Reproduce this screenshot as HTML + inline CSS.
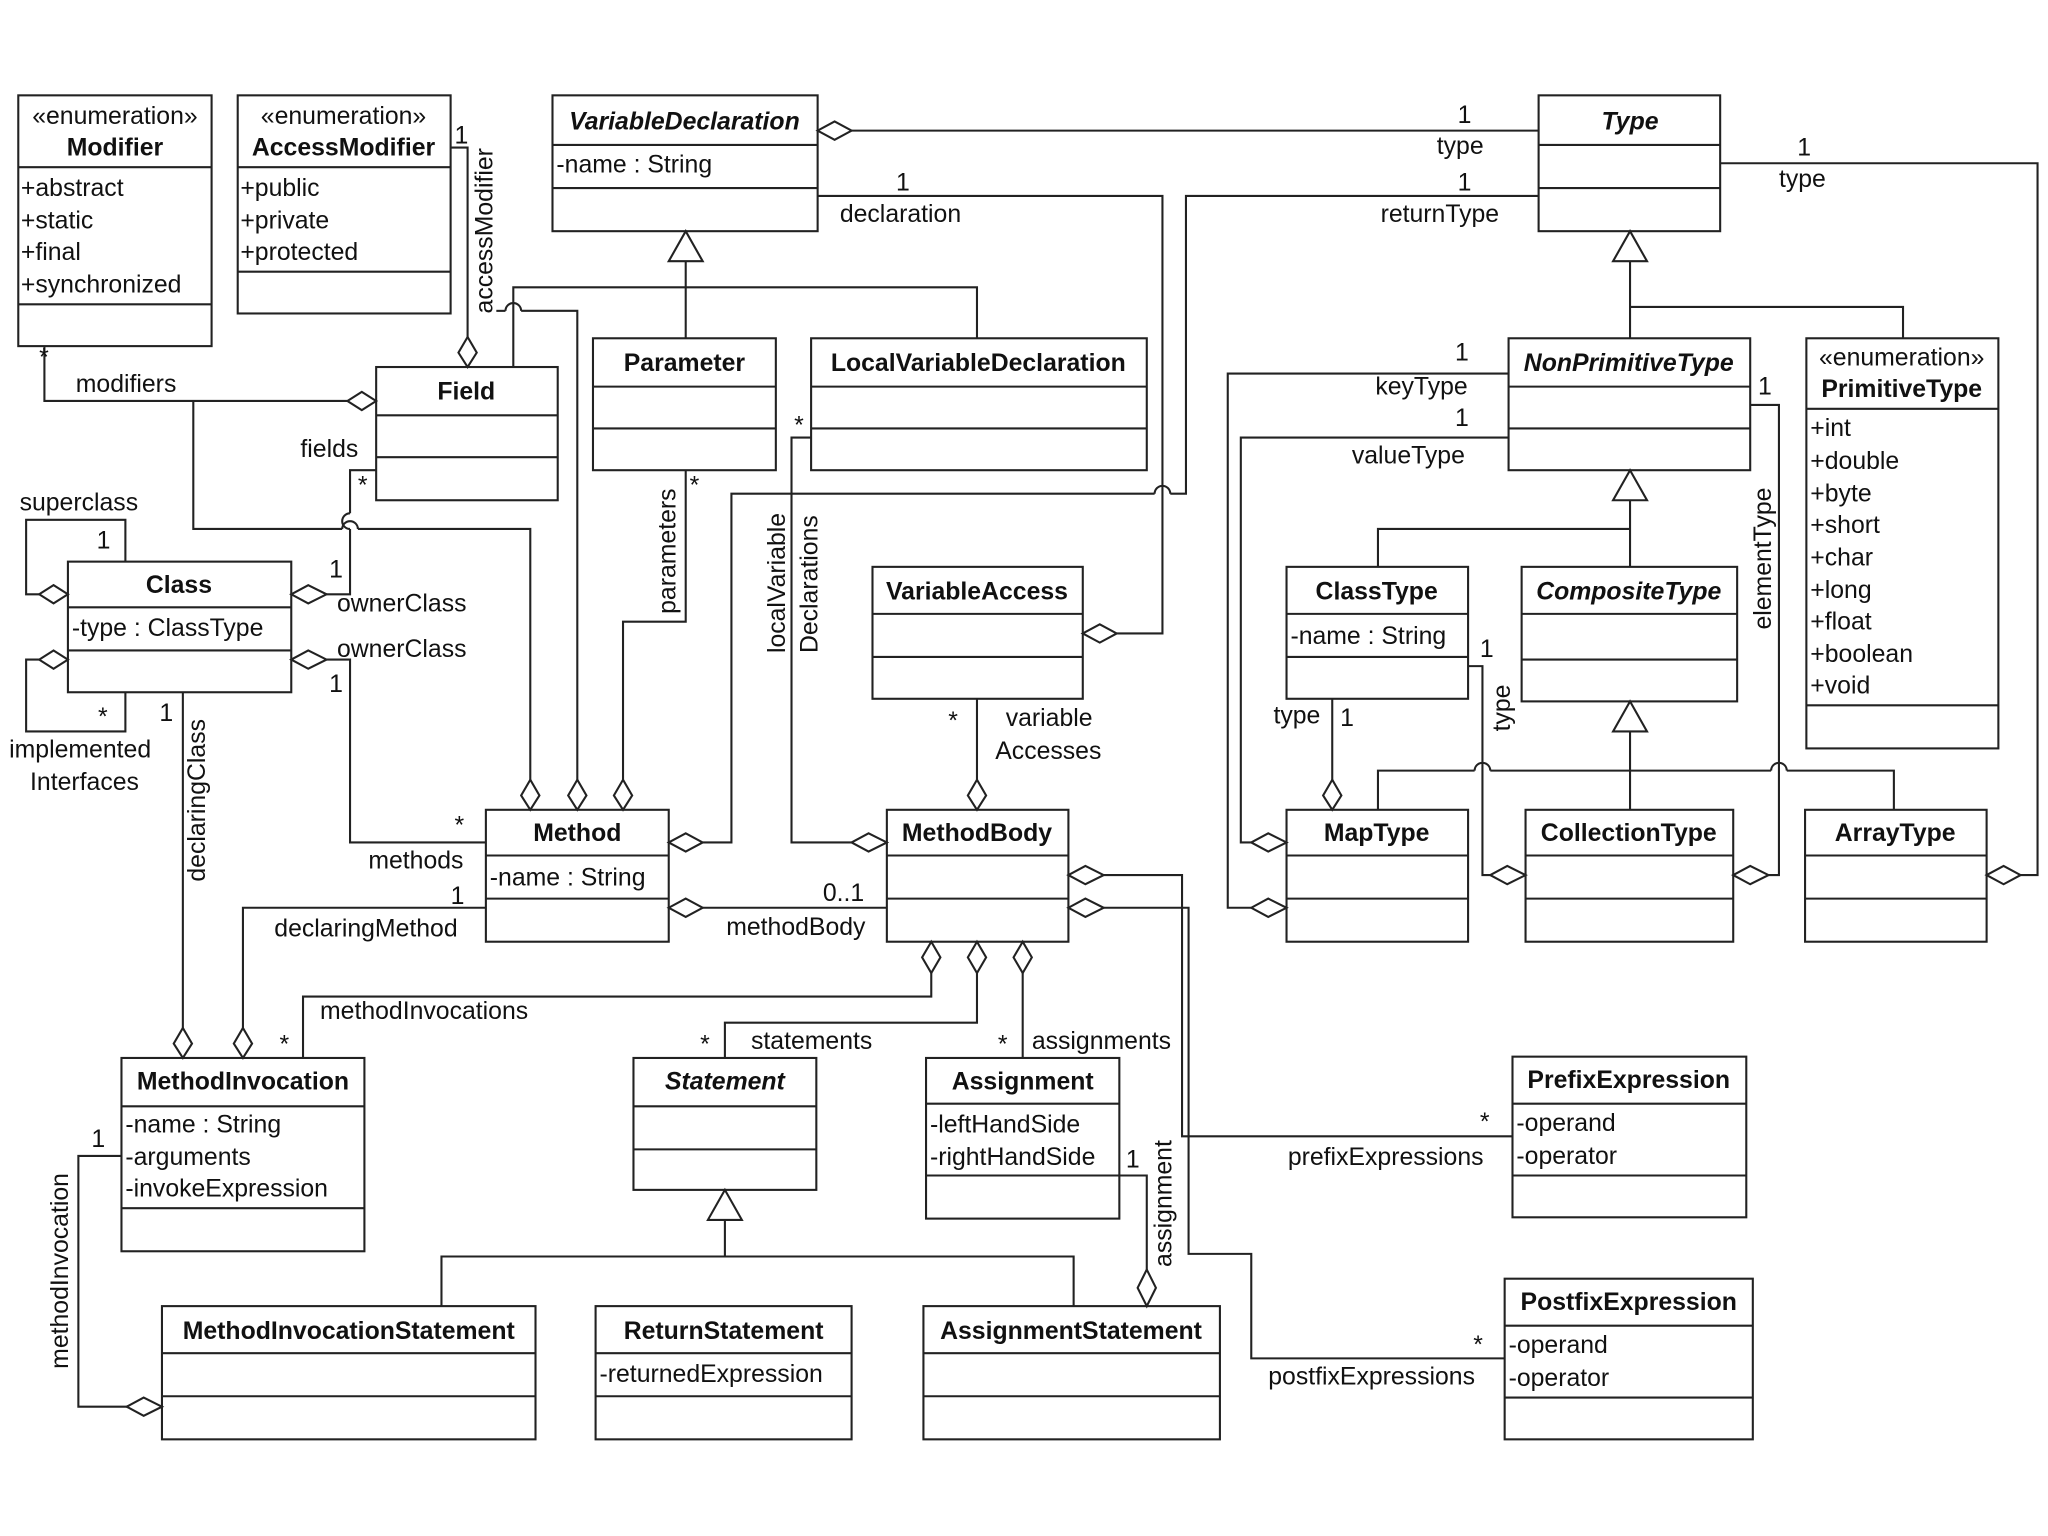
<!DOCTYPE html>
<html><head><meta charset="utf-8"><style>
html,body{margin:0;padding:0;background:#fff;}
svg{display:block;}
text{font-family:"Liberation Sans",sans-serif;font-size:19px;fill:#111;}
.b{font-weight:bold;}
.i{font-style:italic;font-weight:bold;}
</style></head><body>
<svg width="2048" height="1536" viewBox="0 0 1568 1176" preserveAspectRatio="none" xmlns="http://www.w3.org/2000/svg">
<rect width="1568" height="1176" fill="#fff"/>
<g fill="none" stroke="#222" stroke-width="1.6">
<rect x="14" y="73" width="148" height="192"/><line x1="14" y1="128" x2="162" y2="128"/><line x1="14" y1="233" x2="162" y2="233"/>
<rect x="182" y="73" width="163" height="167"/><line x1="182" y1="128" x2="345" y2="128"/><line x1="182" y1="208" x2="345" y2="208"/>
<rect x="423" y="73" width="203" height="104"/><line x1="423" y1="111" x2="626" y2="111"/><line x1="423" y1="144" x2="626" y2="144"/>
<rect x="1178" y="73" width="139" height="104"/><line x1="1178" y1="111" x2="1317" y2="111"/><line x1="1178" y1="144" x2="1317" y2="144"/>
<rect x="288" y="281" width="139" height="102"/><line x1="288" y1="318" x2="427" y2="318"/><line x1="288" y1="350" x2="427" y2="350"/>
<rect x="454" y="259" width="140" height="101"/><line x1="454" y1="296" x2="594" y2="296"/><line x1="454" y1="328" x2="594" y2="328"/>
<rect x="621" y="259" width="257" height="101"/><line x1="621" y1="296" x2="878" y2="296"/><line x1="621" y1="328" x2="878" y2="328"/>
<rect x="1155" y="259" width="185" height="101"/><line x1="1155" y1="296" x2="1340" y2="296"/><line x1="1155" y1="328" x2="1340" y2="328"/>
<rect x="1383" y="259" width="147" height="314"/><line x1="1383" y1="313" x2="1530" y2="313"/><line x1="1383" y1="540" x2="1530" y2="540"/>
<rect x="52" y="430" width="171" height="100"/><line x1="52" y1="465" x2="223" y2="465"/><line x1="52" y1="498" x2="223" y2="498"/>
<rect x="668" y="434" width="161" height="101"/><line x1="668" y1="470" x2="829" y2="470"/><line x1="668" y1="503" x2="829" y2="503"/>
<rect x="985" y="434" width="139" height="101"/><line x1="985" y1="470" x2="1124" y2="470"/><line x1="985" y1="503" x2="1124" y2="503"/>
<rect x="1165" y="434" width="165" height="103"/><line x1="1165" y1="470" x2="1330" y2="470"/><line x1="1165" y1="505" x2="1330" y2="505"/>
<rect x="372" y="620" width="140" height="101"/><line x1="372" y1="655" x2="512" y2="655"/><line x1="372" y1="688" x2="512" y2="688"/>
<rect x="679" y="620" width="139" height="101"/><line x1="679" y1="655" x2="818" y2="655"/><line x1="679" y1="688" x2="818" y2="688"/>
<rect x="985" y="620" width="139" height="101"/><line x1="985" y1="655" x2="1124" y2="655"/><line x1="985" y1="688" x2="1124" y2="688"/>
<rect x="1168" y="620" width="159" height="101"/><line x1="1168" y1="655" x2="1327" y2="655"/><line x1="1168" y1="688" x2="1327" y2="688"/>
<rect x="1382" y="620" width="139" height="101"/><line x1="1382" y1="655" x2="1521" y2="655"/><line x1="1382" y1="688" x2="1521" y2="688"/>
<rect x="93" y="810" width="186" height="148"/><line x1="93" y1="847" x2="279" y2="847"/><line x1="93" y1="925" x2="279" y2="925"/>
<rect x="485" y="810" width="140" height="101"/><line x1="485" y1="847" x2="625" y2="847"/><line x1="485" y1="880" x2="625" y2="880"/>
<rect x="709" y="810" width="148" height="123"/><line x1="709" y1="845" x2="857" y2="845"/><line x1="709" y1="900" x2="857" y2="900"/>
<rect x="1158" y="809" width="179" height="123"/><line x1="1158" y1="845" x2="1337" y2="845"/><line x1="1158" y1="900" x2="1337" y2="900"/>
<rect x="1152" y="979" width="190" height="123"/><line x1="1152" y1="1015" x2="1342" y2="1015"/><line x1="1152" y1="1070" x2="1342" y2="1070"/>
<rect x="124" y="1000" width="286" height="102"/><line x1="124" y1="1036" x2="410" y2="1036"/><line x1="124" y1="1069" x2="410" y2="1069"/>
<rect x="456" y="1000" width="196" height="102"/><line x1="456" y1="1036" x2="652" y2="1036"/><line x1="456" y1="1069" x2="652" y2="1069"/>
<rect x="707" y="1000" width="227" height="102"/><line x1="707" y1="1036" x2="934" y2="1036"/><line x1="707" y1="1069" x2="934" y2="1069"/>

<polyline points="34,265 34,307 266,307"/>
<polyline points="345,113 358,113 358,258"/>
<line x1="652" y1="100" x2="1178" y2="100"/>
<polyline points="626,150 890,150 890,485 855,485"/>
<polyline points="1178,150 908,150 908,378 896,378"/><path d="M896,378 a6,6 0 0 0 -12,0"/><polyline points="884,378 560,378 560,645 538,645"/>
<polyline points="1317,125 1560,125 1560,670 1547,670"/>
<line x1="525" y1="200" x2="525" y2="259"/>
<polyline points="393,281 393,220 748,220 748,259"/>
<polyline points="380,238 387,238"/><path d="M387,238 a6,6 0 0 1 12,0"/><polyline points="399,238 442,238 442,597"/>
<polyline points="250,455 268,455 268,405"/><path d="M268,405 a6,6 0 0 1 0,-12" /><polyline points="268,393 268,360 288,360"/>
<polyline points="148,307 148,405 262,405"/><path d="M262,405 a6,6 0 0 1 12,0"/><polyline points="274,405 406,405 406,597"/>
<polyline points="477,597 477,476 525,476 525,360"/>
<polyline points="96,430 96,398 20,398 20,455 30,455"/>
<polyline points="30,505 20,505 20,560 96,560 96,530"/>
<polyline points="250,505 268,505 268,645 372,645"/>
<line x1="140" y1="530" x2="140" y2="787"/>
<polyline points="372,695 186,695 186,787"/>
<line x1="538" y1="695" x2="679" y2="695"/>
<polyline points="621,335 606,335 606,645 652,645"/>
<line x1="748" y1="535" x2="748" y2="597"/>
<polyline points="713,745 713,763 232,763 232,810"/>
<polyline points="748,745 748,783 555,783 555,810"/>
<line x1="783" y1="745" x2="783" y2="810"/>
<polyline points="845,670 905,670 905,870 1158,870"/>
<polyline points="845,695 910,695 910,960 958,960 958,1040 1152,1040"/>
<polyline points="857,900 878,900 878,972"/>
<line x1="555" y1="934" x2="555" y2="962"/>
<polyline points="338,1000 338,962 822,962 822,1000"/>
<polyline points="93,885 60,885 60,1077 97,1077"/>
<line x1="1248" y1="200" x2="1248" y2="259"/>
<polyline points="1248,235 1457,235 1457,259"/>
<line x1="1248" y1="383" x2="1248" y2="434"/>
<polyline points="1248,405 1055,405 1055,434"/>
<line x1="1248" y1="560" x2="1248" y2="620"/>
<polyline points="1055,620 1055,590 1129,590"/><path d="M1129,590 a6,6 0 0 1 12,0"/><polyline points="1141,590 1356,590"/><path d="M1356,590 a6,6 0 0 1 12,0"/><polyline points="1368,590 1450,590 1450,620"/>
<polyline points="1155,286 940,286 940,695 958,695"/>
<polyline points="1155,335 950,335 950,645 958,645"/>
<line x1="1020" y1="535" x2="1020" y2="597"/>
<polyline points="1124,510 1135,510 1135,670 1141,670"/>
<polyline points="1340,310 1362,310 1362,670 1354,670"/>
</g>
<g fill="#fff" stroke="#222" stroke-width="1.6">
<polygon points="266,307 277,300 288,307 277,314"/>
<polygon points="358,258 351,270 358,281 365,270"/>
<polygon points="626,100 639,93 652,100 639,107"/>
<polygon points="829,485 842,478 855,485 842,492"/>
<polygon points="512,645 525,638 538,645 525,652"/>
<polygon points="1521,670 1534,663 1547,670 1534,677"/>
<polygon points="223,455 236,448 250,455 236,462"/>
<polygon points="223,505 236,498 250,505 236,512"/>
<polygon points="30,455 41,448 52,455 41,462"/>
<polygon points="30,505 41,498 52,505 41,512"/>
<polygon points="406,597 399,609 406,620 413,609"/>
<polygon points="442,597 435,609 442,620 449,609"/>
<polygon points="477,597 470,609 477,620 484,609"/>
<polygon points="140,787 133,799 140,810 147,799"/>
<polygon points="186,787 179,799 186,810 193,799"/>
<polygon points="512,695 525,688 538,695 525,702"/>
<polygon points="652,645 665,638 679,645 665,652"/>
<polygon points="748,597 741,609 748,620 755,609"/>
<polygon points="713,721 706,733 713,745 720,733"/>
<polygon points="748,721 741,733 748,745 755,733"/>
<polygon points="783,721 776,733 783,745 790,733"/>
<polygon points="818,670 831,663 845,670 831,677"/>
<polygon points="818,695 831,688 845,695 831,702"/>
<polygon points="878,972 871,986 878,1000 885,986"/>
<polygon points="97,1077 110,1070 124,1077 110,1084"/>
<polygon points="958,645 971,638 985,645 971,652"/>
<polygon points="958,695 971,688 985,695 971,702"/>
<polygon points="1020,597 1013,609 1020,620 1027,609"/>
<polygon points="1141,670 1154,663 1168,670 1154,677"/>
<polygon points="1327,670 1340,663 1354,670 1340,677"/>
<polygon points="525,177 512,200 538,200"/>
<polygon points="555,911 542,934 568,934"/>
<polygon points="1248,177 1235,200 1261,200"/>
<polygon points="1248,360 1235,383 1261,383"/>
<polygon points="1248,537 1235,560 1261,560"/>
</g>
<text x="88" y="95" text-anchor="middle">«enumeration»</text><text x="88" y="119" text-anchor="middle" class="b">Modifier</text>
<text x="16" y="150">+abstract</text><text x="16" y="175">+static</text><text x="16" y="199">+final</text><text x="16" y="224">+synchronized</text>
<text x="263" y="95" text-anchor="middle">«enumeration»</text><text x="263" y="119" text-anchor="middle" class="b">AccessModifier</text>
<text x="184" y="150">+public</text><text x="184" y="175">+private</text><text x="184" y="199">+protected</text>
<text x="524" y="99" text-anchor="middle" class="i">VariableDeclaration</text><text x="426" y="132">-name : String</text>
<text x="1248" y="99" text-anchor="middle" class="i">Type</text>
<text x="357" y="306" text-anchor="middle" class="b">Field</text>
<text x="524" y="284" text-anchor="middle" class="b">Parameter</text>
<text x="749" y="284" text-anchor="middle" class="b">LocalVariableDeclaration</text>
<text x="1247" y="284" text-anchor="middle" class="i">NonPrimitiveType</text>
<text x="1456" y="280" text-anchor="middle">«enumeration»</text><text x="1456" y="304" text-anchor="middle" class="b">PrimitiveType</text>
<text x="1386" y="334">+int</text><text x="1386" y="359">+double</text><text x="1386" y="384">+byte</text><text x="1386" y="408">+short</text><text x="1386" y="433">+char</text><text x="1386" y="458">+long</text><text x="1386" y="482">+float</text><text x="1386" y="507">+boolean</text><text x="1386" y="531">+void</text>
<text x="137" y="454" text-anchor="middle" class="b">Class</text><text x="55" y="487">-type : ClassType</text>
<text x="748" y="459" text-anchor="middle" class="b">VariableAccess</text>
<text x="1054" y="459" text-anchor="middle" class="b">ClassType</text><text x="988" y="493">-name : String</text>
<text x="1247" y="459" text-anchor="middle" class="i">CompositeType</text>
<text x="442" y="644" text-anchor="middle" class="b">Method</text><text x="375" y="678">-name : String</text>
<text x="748" y="644" text-anchor="middle" class="b">MethodBody</text>
<text x="1054" y="644" text-anchor="middle" class="b">MapType</text>
<text x="1247" y="644" text-anchor="middle" class="b">CollectionType</text>
<text x="1451" y="644" text-anchor="middle" class="b">ArrayType</text>
<text x="186" y="834" text-anchor="middle" class="b">MethodInvocation</text>
<text x="96" y="867">-name : String</text><text x="96" y="892">-arguments</text><text x="96" y="916">-invokeExpression</text>
<text x="555" y="834" text-anchor="middle" class="i">Statement</text>
<text x="783" y="834" text-anchor="middle" class="b">Assignment</text><text x="712" y="867">-leftHandSide</text><text x="712" y="892">-rightHandSide</text>
<text x="1247" y="833" text-anchor="middle" class="b">PrefixExpression</text><text x="1161" y="866">-operand</text><text x="1161" y="891">-operator</text>
<text x="1247" y="1003" text-anchor="middle" class="b">PostfixExpression</text><text x="1155" y="1036">-operand</text><text x="1155" y="1061">-operator</text>
<text x="267" y="1025" text-anchor="middle" class="b">MethodInvocationStatement</text>
<text x="554" y="1025" text-anchor="middle" class="b">ReturnStatement</text><text x="459" y="1058">-returnedExpression</text>
<text x="820" y="1025" text-anchor="middle" class="b">AssignmentStatement</text>
<text x="30" y="280">*</text><text x="58" y="300">modifiers</text>
<text x="348" y="110">1</text>
<text transform="translate(377,240) rotate(-90)">accessModifier</text>
<text x="1116" y="94">1</text><text x="1100" y="118">type</text>
<text x="686" y="146">1</text><text x="643" y="170">declaration</text>
<text x="1116" y="146">1</text><text x="1057" y="170">returnType</text>
<text x="1376" y="119">1</text><text x="1362" y="143">type</text>
<text x="230" y="350">fields</text><text x="274" y="378">*</text>
<text x="15" y="391">superclass</text><text x="74" y="420">1</text>
<text x="252" y="442">1</text><text x="258" y="468">ownerClass</text>
<text x="258" y="503">ownerClass</text><text x="252" y="530">1</text>
<text x="75" y="555">*</text><text x="7" y="580">implemented</text><text x="23" y="605">Interfaces</text>
<text x="122" y="552">1</text>
<text transform="translate(157,675) rotate(-90)">declaringClass</text>
<text transform="translate(517,470) rotate(-90)">parameters</text><text x="528" y="378">*</text>
<text x="348" y="638">*</text><text x="282" y="665">methods</text>
<text x="345" y="692">1</text><text x="210" y="717">declaringMethod</text>
<text x="630" y="690">0..1</text><text x="556" y="716">methodBody</text>
<text x="608" y="332">*</text>
<text transform="translate(601,500) rotate(-90)">localVariable</text>
<text transform="translate(626,500) rotate(-90)">Declarations</text>
<text x="726" y="558">*</text><text x="770" y="556">variable</text><text x="762" y="581">Accesses</text>
<text x="245" y="780">methodInvocations</text><text x="214" y="806">*</text>
<text x="575" y="803">statements</text><text x="536" y="806">*</text>
<text x="790" y="803">assignments</text><text x="764" y="806">*</text>
<text x="986" y="892">prefixExpressions</text><text x="1133" y="865">*</text>
<text x="971" y="1060">postfixExpressions</text><text x="1128" y="1036">*</text>
<text x="862" y="894">1</text>
<text transform="translate(897,970) rotate(-90)">assignment</text>
<text x="70" y="878">1</text>
<text transform="translate(52,1048) rotate(-90)">methodInvocation</text>
<text x="1114" y="276">1</text><text x="1053" y="302">keyType</text>
<text x="1114" y="326">1</text><text x="1035" y="355">valueType</text>
<text x="975" y="554">type</text><text x="1026" y="556">1</text>
<text x="1133" y="503">1</text>
<text transform="translate(1156,560) rotate(-90)">type</text>
<text x="1346" y="302">1</text>
<text transform="translate(1356,482) rotate(-90)">elementType</text>
</svg>
</body></html>
